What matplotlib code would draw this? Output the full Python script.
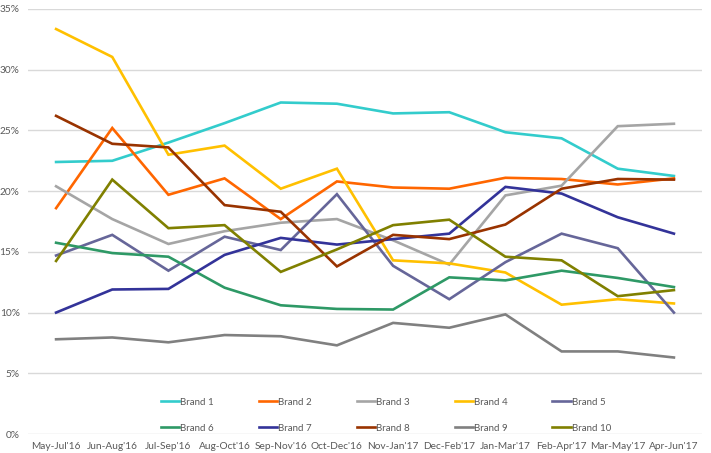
import matplotlib
matplotlib.use('Agg')
import matplotlib.pyplot as plt
from matplotlib.ticker import FuncFormatter

periods = ["May-Jul'16", "Jun-Aug'16", "Jul-Sep'16", "Aug-Oct'16", "Sep-Nov'16", "Oct-Dec'16",
           "Nov-Jan'17", "Dec-Feb'17", "Jan-Mar'17", "Feb-Apr'17", "Mar-May'17", "Apr-Jun'17"]

brand1 = [22.4, 22.5, 24.0, 25.6, 27.3, 27.2, 26.4, 26.5, 24.85, 24.35, 21.85, 21.25]
brand2 = [18.6, 25.2, 19.7, 21.05, 17.7, 20.8, 20.3, 20.2, 21.1, 21.0, 20.55, 21.05]
brand3 = [20.4, 17.7, 15.65, 16.7, 17.4, 17.7, 15.95, 13.95, 19.65, 20.45, 25.35, 25.55]
brand4 = [33.35, 31.05, 23.0, 23.75, 20.2, 21.85, 14.3, 14.05, 13.3, 10.65, 11.1, 10.75]
brand5 = [14.7, 16.4, 13.45, 16.25, 15.15, 19.75, 13.85, 11.1, 14.15, 16.5, 15.3, 10.0]
brand6 = [15.75, 14.9, 14.6, 12.05, 10.6, 10.3, 10.25, 12.9, 12.65, 13.45, 12.85, 12.1]
brand7 = [10.0, 11.9, 11.95, 14.75, 16.15, 15.6, 16.05, 16.5, 20.35, 19.8, 17.85, 16.5]
brand8 = [26.2, 23.9, 23.6, 18.85, 18.3, 13.8, 16.4, 16.05, 17.25, 20.2, 21.0, 20.95]
brand9 = [7.8, 7.95, 7.55, 8.15, 8.05, 7.3, 9.15, 8.75, 9.85, 6.8, 6.8, 6.3]
brand10 = [14.25, 20.95, 16.95, 17.2, 13.35, 15.2, 17.2, 17.65, 14.6, 14.3, 11.35, 11.85]

names = ['Brand 1', 'Brand 2', 'Brand 3', 'Brand 4', 'Brand 5',
         'Brand 6', 'Brand 7', 'Brand 8', 'Brand 9', 'Brand 10']
series = [brand1, brand2, brand3, brand4, brand5, brand6, brand7, brand8, brand9, brand10]
colors = ['#33CCCC', '#FF6600', '#A5A5A5', '#FFC000', '#666699',
          '#2E9966', '#333399', '#993300', '#808080', '#808000']

plt.rcParams['font.family'] = ['Lato', 'DejaVu Sans']

fig = plt.figure(figsize=(7.11, 4.53), dpi=100)
ax = fig.add_axes([28 / 711, 1 - 434 / 453, 674 / 711, 425 / 453])

x = list(range(len(periods)))
handles = []
for name, vals, col in zip(names, series, colors):
    h, = ax.plot(x, vals, color=col, lw=1.9, label=name, solid_joinstyle='miter')
    handles.append(h)

ax.set_xlim(-0.5, len(periods) - 0.5)
ax.set_ylim(0, 35)
ax.set_yticks([0, 5, 10, 15, 20, 25, 30, 35])
ax.yaxis.set_major_formatter(FuncFormatter(lambda v, p: '%d%%' % v))
ax.set_xticks(x)
ax.set_xticklabels(periods)
ax.grid(axis='y', color='#D9D9D9', lw=1)
ax.set_axisbelow(True)
for s in ax.spines.values():
    s.set_visible(False)
ax.tick_params(length=0, labelsize=7.3, colors='#595959', pad=6)

# legend: rows Brand 1-5, Brand 6-10
order = [0, 5, 1, 6, 2, 7, 3, 8, 4, 9]
ax.legend([handles[i] for i in order], [names[i] for i in order], ncol=5,
          loc='upper left', bbox_to_anchor=(152 / 711, 1 - 389 / 453),
          bbox_transform=fig.transFigure, frameon=False, fontsize=7,
          handlelength=1.9, handletextpad=0.1, columnspacing=4.6,
          labelspacing=1.75, labelcolor='#595959')

fig.savefig('out.png', dpi=100)
